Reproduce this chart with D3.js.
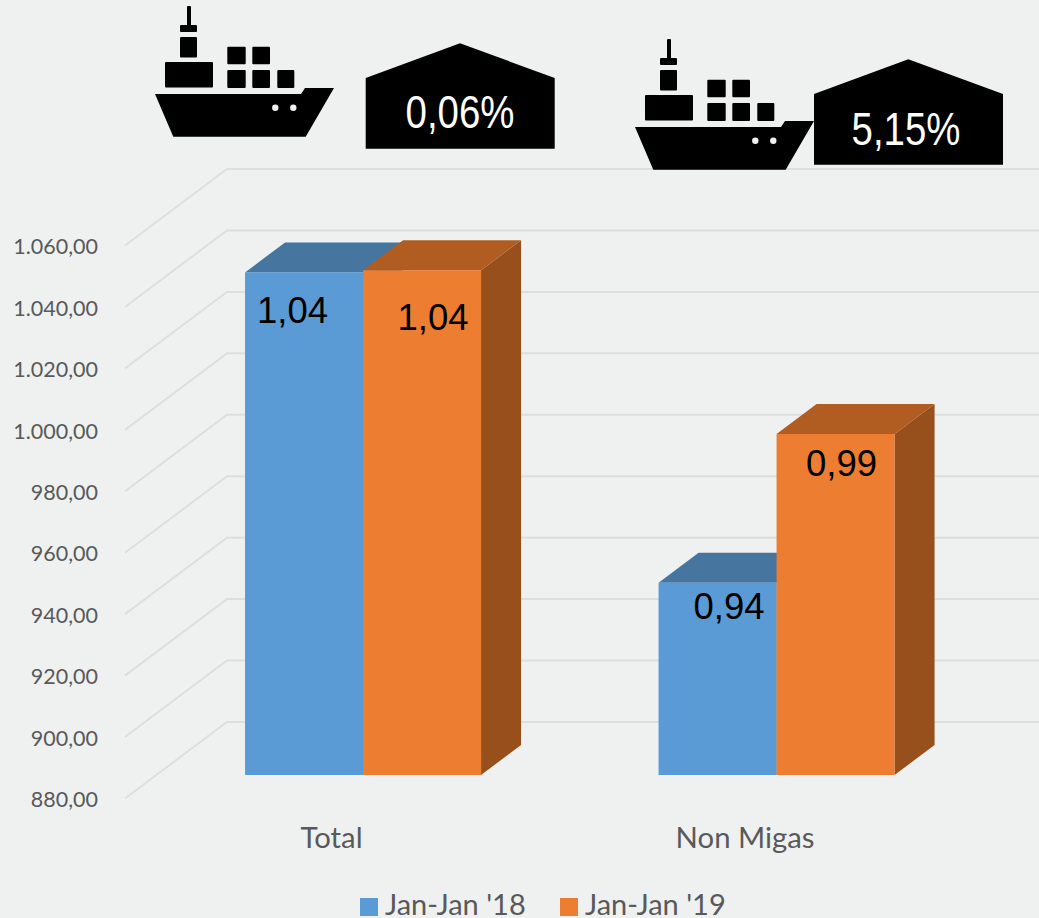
<!DOCTYPE html>
<html>
<head>
<meta charset="utf-8">
<script src="https://cdn.jsdelivr.net/npm/d3@7/dist/d3.min.js"></script>
<style>
html,body{margin:0;padding:0;background:#eff1f1;}
svg{display:block;}
</style>
</head>
<body>
<svg id="chart" width="1039" height="918"></svg>
<script>
// ---- data ----
const categories = ["Total", "Non Migas"];
const seriesNames = ["Jan-Jan '18", "Jan-Jan '19"];
const series2018 = [1043.6, 942.6];
const series2019 = [1044.3, 991.0];
const labels2018 = ["1,04", "0,94"];
const labels2019 = ["1,04", "0,99"];
const growthLabels = ["0,06%", "5,15%"];
const tickValues = [880, 900, 920, 940, 960, 980, 1000, 1020, 1040, 1060];

// ---- layout / style ----
const W = 1039, H = 918;
const colors = {
  bg: "#eff1f1", grid: "#dcdfdf", axisText: "#595959",
  front: ["#5b9bd5", "#ed7d31"], top: ["#4675a0", "#b15c20"], side: ["#3f6a92", "#974f1c"]
};
const floorDepth = {dx: 102, dy: 76.5};      // wall-to-front depth of the plot floor
const barFront = {dy: 53}, barDepth = {dx: 40, dy: 30};
const labelNudge = [[[-11.5, 51], [11.5, 36]], [[11, 60], [6, 42]]]; // [series][category] from bar centre / top
const iconOffsets = [{ship: [0, 0], house: [0, 0], text: [460, 128]},
                     {ship: [480, 33], house: [448.3, 16], text: [906, 145]}];

const svg = d3.select("#chart");
svg.append("rect").attr("width", W).attr("height", H).attr("fill", colors.bg);

const wallX = 227;
const y = d3.scaleLinear().domain([880, 1060]).range([722, 169]);      // back wall
const yFront = d3.scaleLinear().domain([880, 1060]).range([798.5, 245.5]); // axis plane
const x0 = d3.scaleBand().domain(categories).range([156.3, 983.3]).paddingInner(0.4293).paddingOuter(0.2146);
const x1 = d3.scaleBand().domain(d3.range(2)).range([0, x0.bandwidth()]);

// gridlines
const gridLine = d3.line();
svg.append("g").selectAll("path").data(tickValues).join("path")
  .attr("d", v => gridLine([[wallX - floorDepth.dx, y(v) + floorDepth.dy], [wallX, y(v)], [W, y(v)]]))
  .attr("fill", "none").attr("stroke", colors.grid).attr("stroke-width", 2);

// y axis
const locale = d3.formatLocale({decimal: ",", thousands: ".", grouping: [3], currency: ["", ""]});
const axis = svg.append("g").attr("transform", "translate(98,0)")
  .call(d3.axisLeft(yFront).tickValues(tickValues).tickSize(0).tickPadding(0).tickFormat(locale.format(",.2f")));
axis.select(".domain").remove();
axis.selectAll("text").attr("font-family", "Lato, 'Open Sans', sans-serif").attr("font-size", 21.5)
  .attr("fill", colors.axisText).attr("dy", "0.38em");

// bars
const allValues = [series2018, series2019];
const allLabels = [labels2018, labels2019];
const poly = pts => "M" + pts.map(p => p.join(",")).join("L") + "Z";
const baseY = y(880) + barFront.dy;
allValues.forEach((vals, s) => {
  const g = svg.append("g");
  const rows = vals.map((v, c) => {
    const x = x0(categories[c]) + x1(s), w = x1.bandwidth(), top = y(v) + barFront.dy;
    return {x, w, top};
  });
  g.selectAll("path.side").data(rows).join("path").attr("class", "side")
    .attr("d", d => poly([[d.x + d.w, d.top], [d.x + d.w + barDepth.dx, d.top - barDepth.dy],
                          [d.x + d.w + barDepth.dx, baseY - barDepth.dy], [d.x + d.w, baseY]]))
    .attr("fill", colors.side[s]);
  g.selectAll("path.top").data(rows).join("path").attr("class", "top")
    .attr("d", d => poly([[d.x, d.top], [d.x + barDepth.dx, d.top - barDepth.dy],
                          [d.x + d.w + barDepth.dx, d.top - barDepth.dy], [d.x + d.w, d.top]]))
    .attr("fill", colors.top[s]);
  g.selectAll("rect").data(rows).join("rect")
    .attr("x", d => d.x).attr("y", d => d.top).attr("width", d => d.w).attr("height", d => baseY - d.top)
    .attr("fill", colors.front[s]);
});
// data labels above all bars
allValues.forEach((vals, s) => {
  svg.append("g").selectAll("text").data(vals).join("text")
    .attr("x", (v, c) => x0(categories[c]) + x1(s) + x1.bandwidth() / 2 + labelNudge[s][c][0])
    .attr("y", (v, c) => y(v) + barFront.dy + labelNudge[s][c][1])
    .attr("text-anchor", "middle").attr("font-family", "'Liberation Sans', Arial, sans-serif")
    .attr("font-size", 36.5).attr("fill", "#000")
    .text((v, c) => allLabels[s][c]);
});

// category labels
svg.append("g").selectAll("text").data(categories).join("text")
  .attr("x", d => x0(d) + x0.bandwidth() / 2 - 31.5).attr("y", 848)
  .attr("text-anchor", "middle").attr("font-family", "Lato, 'Open Sans', sans-serif")
  .attr("font-size", 29.3).attr("fill", colors.axisText).text(d => d);

// legend
const legendX = [360, 560];
const legend = svg.append("g").selectAll("g").data(seriesNames).join("g")
  .attr("transform", (d, i) => `translate(${legendX[i]},898)`);
legend.append("rect").attr("width", 18).attr("height", 18).attr("fill", (d, i) => colors.front[i]);
legend.append("text").attr("x", 25).attr("y", 17).attr("font-family", "Lato, 'Open Sans', sans-serif")
  .attr("font-size", 29).attr("fill", colors.axisText).text(d => d);

// ship + house decorations
const shipRects = [[187, 6, 4, 20], [180, 25, 17, 7], [180, 37, 17, 20.5], [165, 62, 48, 25.5],
  [227.3, 46.7, 18.4, 17.5], [252.3, 46.7, 17.7, 17.5], [227.3, 70, 18.4, 18], [252.3, 70, 17.7, 18], [277.3, 70, 17, 18]];
const hull = [[155, 94], [301, 94], [305, 88], [334, 88], [305.7, 136.7], [173.3, 136.7]];
const portholes = [275.3, 293.3];
const housePts = [[365.7, 78], [460, 43.3], [554.7, 78], [554.7, 148.7], [365.7, 148.7]];

iconOffsets.forEach((o, i) => {
  const ship = svg.append("g").attr("transform", `translate(${o.ship})`);
  ship.selectAll("rect").data(shipRects).join("rect")
    .attr("x", d => d[0]).attr("y", d => d[1]).attr("width", d => d[2]).attr("height", d => d[3])
    .attr("rx", 1).attr("fill", "#000");
  ship.append("path").attr("d", poly(hull)).attr("fill", "#000");
  ship.selectAll("circle").data(portholes).join("circle")
    .attr("cx", d => d).attr("cy", 107.7).attr("r", 3.2).attr("fill", colors.bg);
  svg.append("g").attr("transform", `translate(${o.house})`)
    .append("path").attr("d", poly(housePts)).attr("fill", "#000");
  svg.append("text").attr("x", o.text[0]).attr("y", o.text[1]).attr("text-anchor", "middle")
    .attr("font-family", "'Liberation Sans', Arial, sans-serif").attr("font-size", 47)
    .attr("textLength", 109).attr("lengthAdjust", "spacingAndGlyphs")
    .attr("fill", "#fff").text(growthLabels[i]);
});
</script>
</body>
</html>
